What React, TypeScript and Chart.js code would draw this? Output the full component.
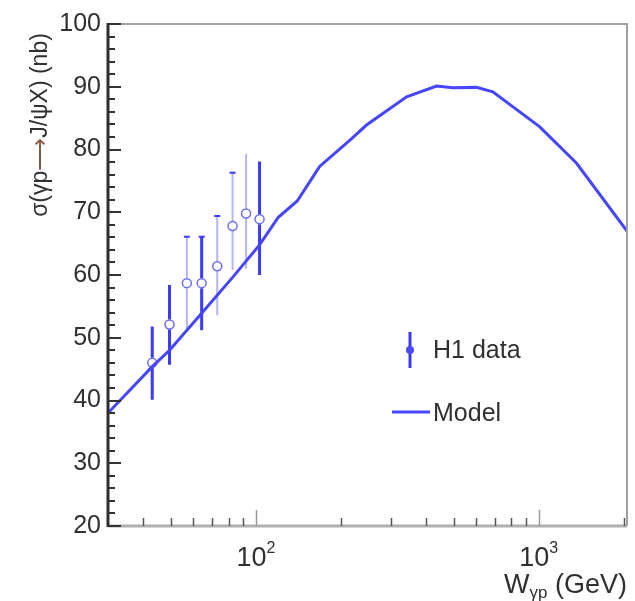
import React, { useEffect, useRef } from 'react';
import { Chart, registerables } from 'chart.js';

Chart.register(...registerables);

// Model curve: W_gp (GeV) vs sigma (nb)
const modelW = [30, 43, 49.5, 64.3, 83, 103, 120, 140, 168, 215, 246, 341, 435, 496, 602, 688, 1008, 1360, 2050];
const modelSigma = [38.0, 45.4, 48.0, 53.9, 59.7, 64.8, 69.2, 71.8, 77.3, 81.5, 83.9, 88.4, 90.1, 89.85, 89.9, 89.2, 83.6, 77.8, 67.0];

// H1 data
const h1W = [43, 49.5, 57, 64.3, 73, 82.7, 92.3, 103];
const h1Sigma = [46.0, 52.1, 58.7, 58.7, 61.4, 67.8, 69.8, 68.9];
const h1ErrUp = [5.8, 6.3, 7.4, 7.4, 8.0, 8.5, 9.5, 9.2];
const h1ErrDown = [5.9, 6.4, 7.5, 7.5, 7.8, 7.0, 8.8, 8.9];

// axis ticks
const yMin = 20;
const yMax = 100;
const yStep = 10;
const xMin = 30;
const xMax = 2050;
const xLabelExponents = ['2', '3'];

// styles (not data)
const barStrong = [true, true, false, true, false, false, false, true];
const barCap = [false, false, true, true, true, true, false, false];

const FONT = "'Liberation Sans', Arial, Helvetica, sans-serif";
const TEXT = '#303030';
const LINE_BLUE = '#4646ff';
const MARK_BLUE = '#6a6aff';

const customPlugin = {
  id: 'rootStyle',
  beforeDatasetsDraw(chart: any) {
    const ctx = chart.ctx as CanvasRenderingContext2D;
    const xs = chart.scales.x;
    const ys = chart.scales.y;
    ctx.save();
    for (let i = 0; i < h1W.length; i++) {
      const px = xs.getPixelForValue(h1W[i]);
      const py = ys.getPixelForValue(h1Sigma[i]);
      const top = ys.getPixelForValue(h1Sigma[i] + h1ErrUp[i]);
      const bot = ys.getPixelForValue(h1Sigma[i] - h1ErrDown[i]);
      ctx.strokeStyle = barStrong[i] ? '#3a3aff' : '#b4b4ff';
      ctx.lineWidth = barStrong[i] ? 3 : 2;
      ctx.beginPath();
      ctx.moveTo(px, top);
      ctx.lineTo(px, py - 5);
      ctx.moveTo(px, py + 5);
      ctx.lineTo(px, bot);
      ctx.stroke();
      if (barCap[i]) {
        ctx.strokeStyle = '#3a3aff';
        ctx.lineWidth = 2;
        ctx.beginPath();
        ctx.moveTo(px - 3, top);
        ctx.lineTo(px + 3, top);
        ctx.stroke();
      }
    }
    ctx.restore();
  },
  afterDraw(chart: any) {
    const ctx = chart.ctx as CanvasRenderingContext2D;
    const xs = chart.scales.x;
    const ys = chart.scales.y;
    const a = chart.chartArea;
    ctx.save();

    // frame
    ctx.lineCap = 'butt';
    ctx.strokeStyle = '#a0a0a0';
    ctx.lineWidth = 2;
    ctx.beginPath();
    ctx.moveTo(a.left, a.top);
    ctx.lineTo(a.right, a.top);
    ctx.lineTo(a.right, a.bottom);
    ctx.stroke();
    ctx.strokeStyle = '#b0b0b0';
    ctx.lineWidth = 3;
    ctx.beginPath();
    ctx.moveTo(a.left, a.bottom);
    ctx.lineTo(a.right, a.bottom);
    ctx.stroke();
    ctx.strokeStyle = '#2e2e2e';
    ctx.lineWidth = 3;
    ctx.beginPath();
    ctx.moveTo(a.left, a.top - 1);
    ctx.lineTo(a.left, a.bottom + 1);
    ctx.stroke();

    // y ticks
    ctx.strokeStyle = '#333';
    ctx.lineWidth = 2;
    for (let v = yMin; v <= yMax; v += 2) {
      const py = Math.round(ys.getPixelForValue(v));
      const len = v % 10 === 0 ? 13 : 7;
      ctx.beginPath();
      ctx.moveTo(a.left, py);
      ctx.lineTo(a.left + len, py);
      ctx.stroke();
    }

    // x ticks (log)
    ctx.lineWidth = 1.5;
    for (let d = 10; d <= 1000; d *= 10) {
      for (let k = 1; k <= 9; k++) {
        const v = d * k;
        if (v <= xMin || v >= xMax) continue;
        const px = Math.round(xs.getPixelForValue(v)) + 0.5;
        const len = k === 1 ? 16 : 8;
        ctx.strokeStyle = k === 1 ? '#9a9a9a' : '#555';
        ctx.beginPath();
        ctx.moveTo(px, a.bottom);
        ctx.lineTo(px, a.bottom - len);
        ctx.stroke();
      }
    }

    // x tick labels 10^n
    ctx.fillStyle = TEXT;
    ctx.textBaseline = 'alphabetic';
    xLabelExponents.forEach((e) => {
      const v = Math.pow(10, Number(e));
      const px = xs.getPixelForValue(v);
      ctx.font = `27px ${FONT}`;
      const wBase = ctx.measureText('10').width;
      ctx.font = `16px ${FONT}`;
      const wExp = ctx.measureText(e).width;
      const start = px - (wBase + wExp) / 2;
      ctx.font = `27px ${FONT}`;
      ctx.textAlign = 'left';
      ctx.fillText('10', start, a.bottom + 40);
      ctx.font = `16px ${FONT}`;
      ctx.fillText(e, start + wBase, a.bottom + 27);
    });

    // x title: W_{γp} (GeV), right aligned
    {
      ctx.font = `27px ${FONT}`;
      const w1 = ctx.measureText('W').width;
      const w3 = ctx.measureText(' (GeV)').width;
      ctx.font = `17px ${FONT}`;
      const w2 = ctx.measureText('γp').width;
      const total = w1 + w2 + w3;
      let x = a.right - total;
      const base = a.bottom + 67;
      ctx.textAlign = 'left';
      ctx.font = `27px ${FONT}`;
      ctx.fillText('W', x, base);
      x += w1;
      ctx.font = `17px ${FONT}`;
      ctx.fillText('γp', x, base + 5);
      x += w2;
      ctx.font = `27px ${FONT}`;
      ctx.fillText(' (GeV)', x, base);
    }

    // y title
    {
      const parts: [string, string][] = [
        ['σ(γp', TEXT],
        ['⟶', '#8a5a44'],
        ['J/ψX) (nb)', TEXT],
      ];
      ctx.font = `23px ${FONT}`;
      const widths = parts.map((p) => ctx.measureText(p[0]).width);
      const total = widths.reduce((s, w) => s + w, 0);
      ctx.translate(41, 125);
      ctx.rotate(-Math.PI / 2);
      ctx.textBaseline = 'middle';
      ctx.textAlign = 'left';
      let x = -total / 2;
      parts.forEach((p, i) => {
        ctx.fillStyle = p[1];
        ctx.fillText(p[0], x, 0);
        x += widths[i];
      });
      ctx.setTransform(1, 0, 0, 1, 0, 0);
    }

    // legend
    {
      ctx.strokeStyle = '#3a3aff';
      ctx.lineWidth = 3;
      ctx.beginPath();
      ctx.moveTo(410, 332);
      ctx.lineTo(410, 368);
      ctx.stroke();
      ctx.fillStyle = '#4a4aff';
      ctx.beginPath();
      ctx.arc(410, 350, 4, 0, Math.PI * 2);
      ctx.fill();

      ctx.strokeStyle = LINE_BLUE;
      ctx.lineWidth = 3;
      ctx.beginPath();
      ctx.moveTo(392, 412);
      ctx.lineTo(430, 412);
      ctx.stroke();

      ctx.fillStyle = TEXT;
      ctx.font = `25px ${FONT}`;
      ctx.textAlign = 'left';
      ctx.textBaseline = 'middle';
      ctx.fillText('H1 data', 433, 351);
      ctx.fillText('Model', 433, 414);
    }

    ctx.restore();
  },
};

export default function App() {
  const ref = useRef<HTMLCanvasElement | null>(null);

  useEffect(() => {
    if (!ref.current) return;
    const chart = new Chart(ref.current, {
      type: 'scatter',
      data: {
        datasets: [
          {
            label: 'Model',
            data: modelW.map((w, i) => ({ x: w, y: modelSigma[i] })),
            showLine: true,
            borderColor: LINE_BLUE,
            borderWidth: 3,
            pointRadius: 0,
            tension: 0,
            fill: false,
          },
          {
            label: 'H1 data',
            data: h1W.map((w, i) => ({ x: w, y: h1Sigma[i] })),
            showLine: false,
            pointStyle: 'circle',
            pointRadius: 4.5,
            borderWidth: 1.5,
            borderColor: MARK_BLUE,
            backgroundColor: 'rgba(255,255,255,0)',
          },
        ],
      },
      options: {
        animation: false,
        responsive: false,
        maintainAspectRatio: false,
        layout: { padding: { left: 0, top: 24, right: 8, bottom: 0 } },
        plugins: {
          legend: { display: false },
          tooltip: { enabled: false },
          title: { display: false },
        },
        scales: {
          x: {
            type: 'logarithmic',
            min: xMin,
            max: xMax,
            position: 'bottom',
            grid: { display: false, drawTicks: false },
            border: { display: false },
            ticks: { display: false },
            afterFit: (s: any) => {
              s.height = 75;
            },
          },
          y: {
            type: 'linear',
            min: yMin,
            max: yMax,
            position: 'left',
            grid: { display: false, drawTicks: false },
            border: { display: false },
            ticks: {
              stepSize: yStep,
              color: TEXT,
              padding: 7,
              font: { size: 25, family: FONT },
            },
            afterFit: (s: any) => {
              s.width = 108;
            },
          },
        },
      },
      plugins: [customPlugin],
    });
    return () => chart.destroy();
  }, []);

  return (
    <div style={{ position: 'absolute', left: 0, top: 0, width: 635, height: 601, background: '#fff' }}>
      <canvas ref={ref} width={635} height={601} style={{ display: 'block' }} />
    </div>
  );
}
